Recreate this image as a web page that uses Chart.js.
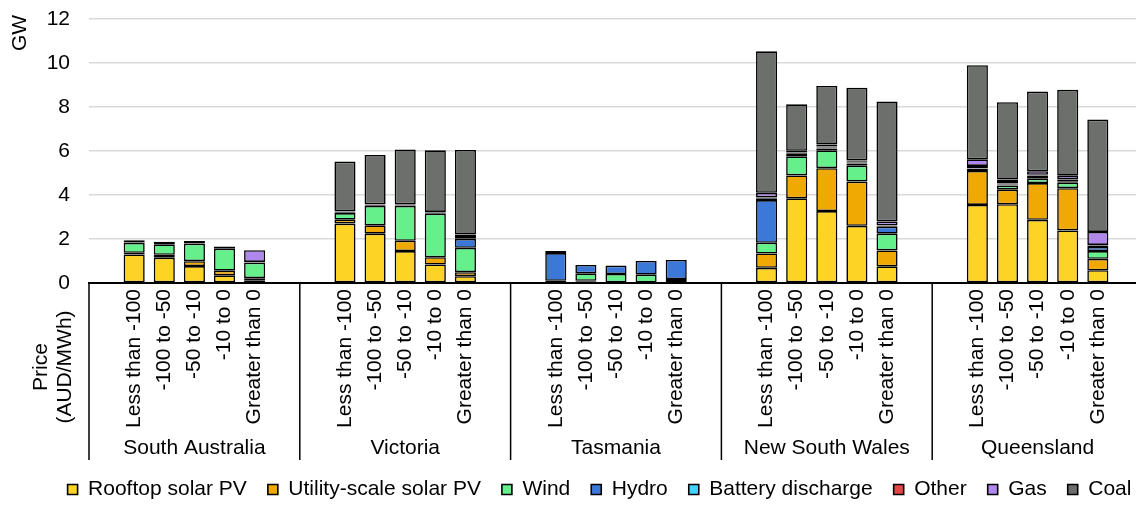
<!DOCTYPE html>
<html>
<head>
<meta charset="utf-8">
<title>Generation mix by negative price band</title>
<script src="https://cdn.jsdelivr.net/npm/chart.js@4"></script>
<style>
  html, body { margin: 0; padding: 0; background: #fff; overflow: hidden; }
  #wrap { width: 1143px; height: 505px; position: relative; }
</style>
</head>
<body>
<div id="wrap"><canvas id="mixChart"></canvas></div>
<script>
'use strict';

// ─── Data (GW, per region × price band) ───────────────────────
const regions    = ['South Australia', 'Victoria', 'Tasmania', 'New South Wales', 'Queensland'];
const priceBands = ['Less than -100', '-100 to -50', '-50 to -10', '-10 to 0', 'Greater than 0'];

// order: SA(5), VIC(5), TAS(5), NSW(5), QLD(5)
const rooftopPV = [1.30, 1.15, 0.77, 0.35, 0.12,  2.70, 2.24, 1.45, 0.84, 0.31,  0.02, 0.08, 0.03, 0.02, 0.03,  0.69, 3.85, 3.27, 2.60, 0.76,  3.55, 3.58, 2.87, 2.39, 0.58];
const utilityPV = [0.07, 0.13, 0.22, 0.21, 0.10,  0.18, 0.38, 0.47, 0.33, 0.18,  0.00, 0.02, 0.00, 0.00, 0.00,  0.65, 1.04, 1.95, 2.01, 0.72,  1.54, 0.66, 1.67, 1.92, 0.52];
const wind      = [0.45, 0.48, 0.80, 1.00, 0.70,  0.30, 0.88, 1.58, 1.98, 1.11,  0.08, 0.34, 0.38, 0.36, 0.15,  0.49, 0.87, 0.81, 0.72, 0.76,  0.10, 0.19, 0.20, 0.25, 0.35];
const hydro     = [0.00, 0.00, 0.00, 0.00, 0.00,  0.04, 0.03, 0.02, 0.03, 0.41,  1.26, 0.38, 0.38, 0.62, 0.87,  1.94, 0.12, 0.08, 0.10, 0.32,  0.03, 0.05, 0.08, 0.06, 0.19];
const battery   = [0.02, 0.00, 0.00, 0.00, 0.02,  0.02, 0.02, 0.02, 0.02, 0.03,  0.00, 0.00, 0.00, 0.00, 0.00,  0.06, 0.05, 0.05, 0.05, 0.04,  0.05, 0.04, 0.07, 0.06, 0.06];
const other     = [0.00, 0.00, 0.00, 0.00, 0.02,  0.01, 0.01, 0.01, 0.01, 0.01,  0.00, 0.00, 0.00, 0.00, 0.00,  0.06, 0.03, 0.05, 0.03, 0.02,  0.05, 0.03, 0.03, 0.03, 0.03];
const gas       = [0.10, 0.12, 0.12, 0.10, 0.53,  0.02, 0.02, 0.02, 0.02, 0.15,  0.10, 0.00, 0.00, 0.00, 0.00,  0.21, 0.05, 0.08, 0.06, 0.18,  0.30, 0.15, 0.16, 0.17, 0.59];
const coal      = [0.00, 0.00, 0.00, 0.00, 0.00,  2.25, 2.24, 2.50, 2.80, 3.85,  0.00, 0.00, 0.00, 0.00, 0.00,  6.43, 2.11, 2.67, 3.30, 5.45,  4.28, 3.52, 3.62, 3.90, 5.11];

const yTicks = [0, 2, 4, 6, 8, 10, 12];

// ─── Layout helpers ───────────────────────────────────────────
// every region gets a blank slot either side of its five bands
const SLOTS = priceBands.length + 2;
const FONT  = "'Liberation Sans', Arial, sans-serif";

function buildLabels() {
  const out = [];
  regions.forEach(() => { out.push(''); priceBands.forEach(b => out.push(b)); out.push(''); });
  return out;
}

function spread(values) {
  const out = [];
  regions.forEach((r, i) => {
    out.push(null);
    priceBands.forEach((b, j) => out.push(values[i * priceBands.length + j]));
    out.push(null);
  });
  return out;
}

const series = [
  { label: 'Rooftop solar PV',      data: rooftopPV, color: '#FDD326' },
  { label: 'Utility-scale solar PV', data: utilityPV, color: '#F0A902' },
  { label: 'Wind',                  data: wind,      color: '#66F08C' },
  { label: 'Hydro',                 data: hydro,     color: '#3C78D8' },
  { label: 'Battery discharge',     data: battery,   color: '#42D4FF' },
  { label: 'Other',                 data: other,     color: '#E64545' },
  { label: 'Gas',                   data: gas,       color: '#B088EC' },
  { label: 'Coal',                  data: coal,      color: '#6D6F6D' },
];

// ─── Multi-level axis + side titles ───────────────────────────
const axisDecor = {
  id: 'axisDecor',
  afterLayout(chart) {
    // nudge legend to sit under the plot like the original
    const lg = chart.legend;
    lg.left += 28; lg.right += 28;
    lg.top += 5;   lg.bottom += 5;
  },
  afterDraw(chart) {
    const { ctx, chartArea, scales: { x } } = chart;
    const bottom = 460;
    const seps = [];
    for (let k = 0; k <= regions.length; k++) seps.push(x.getPixelForValue(k * SLOTS - 0.5));

    ctx.save();
    ctx.strokeStyle = '#000';
    ctx.lineWidth = 1.5;
    seps.forEach(px => {
      ctx.beginPath();
      ctx.moveTo(px, chartArea.bottom);
      ctx.lineTo(px, bottom);
      ctx.stroke();
    });

    ctx.fillStyle = '#000';
    ctx.font = `21px ${FONT}`;
    ctx.textAlign = 'center';
    ctx.textBaseline = 'middle';
    regions.forEach((r, i) => ctx.fillText(r, (seps[i] + seps[i + 1]) / 2, 448));

    const vText = (txt, cx, cy) => {
      ctx.save();
      ctx.translate(cx, cy);
      ctx.rotate(-Math.PI / 2);
      ctx.fillText(txt, 0, 0);
      ctx.restore();
    };
    vText('GW', 20, 33);
    vText('Price', 41, 367);
    vText('(AUD/MWh)', 65, 367);
    ctx.restore();
  }
};

// ─── Chart ────────────────────────────────────────────────────
function renderMixChart() {
  const ctx = document.getElementById('mixChart');

  new Chart(ctx, {
    type: 'bar',
    data: {
      labels: buildLabels(),
      datasets: series.map(s => ({
        label: s.label,
        data: spread(s.data),
        backgroundColor: s.color,
        borderColor: '#000',
        borderWidth: 1.6,
        borderSkipped: false,
        barPercentage: 0.7,
        categoryPercentage: 1,
      }))
    },
    options: {
      responsive: true,
      maintainAspectRatio: false,
      animation: false,
      layout: { padding: { top: 19, left: 0, right: 0, bottom: 0 } },
      plugins: {
        tooltip: { enabled: false },
        legend: {
          position: 'bottom',
          labels: {
            color: '#000',
            font: { family: FONT, size: 21 },
            boxWidth: 10,
            boxHeight: 10,
            padding: 21,
          }
        }
      },
      scales: {
        x: {
          stacked: true,
          grid: { display: false },
          border: { color: '#000', width: 2 },
          ticks: {
            color: '#000',
            font: { family: FONT, size: 21 },
            autoSkip: false,
            minRotation: 90,
            maxRotation: 90,
            padding: -2,
          },
          afterFit: s => {
            s.height = 170;
            s.paddingLeft = 0; s.paddingRight = 0;
            s.paddingTop = 0;  s.paddingBottom = 0;
          }
        },
        y: {
          stacked: true,
          min: yTicks[0],
          max: yTicks[yTicks.length - 1],
          afterBuildTicks: s => { s.ticks = yTicks.map(v => ({ value: v })); },
          grid: { color: '#d9d9d9', lineWidth: 1.5, drawTicks: false },
          border: { display: false },
          ticks: {
            color: '#000',
            font: { family: FONT, size: 21 },
            padding: 19,
          },
          afterFit: s => {
            s.width = 89;
            s.paddingTop = 0; s.paddingBottom = 0;
          }
        }
      }
    },
    plugins: [axisDecor]
  });
}

renderMixChart();
</script>
</body>
</html>
